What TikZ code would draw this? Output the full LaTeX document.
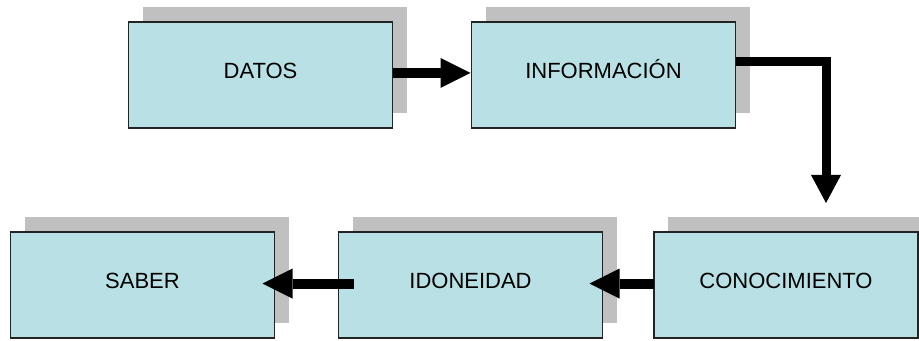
\documentclass[tikz,border=0pt]{standalone}
\usepackage{fontspec}
\setmainfont{Liberation Sans}
\usetikzlibrary{arrows.meta,shadows}
\definecolor{boxfill}{RGB}{185,224,228}
\definecolor{shadowgray}{RGB}{192,192,192}
\definecolor{boxline}{RGB}{35,35,35}
\begin{document}
\begin{tikzpicture}[x=0.75pt,y=-0.75pt,
  stagebox/.style={draw=boxline, line width=1.1pt, fill=boxfill,
    minimum width=198pt, minimum height=79.5pt, inner sep=0pt, outer sep=0pt,
    font=\fontsize{16.5}{18}\selectfont, text height=8pt, text depth=2.2pt,
    general shadow={fill=shadowgray, draw=none, shadow xshift=10.5pt, shadow yshift=11.25pt}},
  arr/.style={line width=7.5pt, -{Triangle[length=22.5pt,width=22.5pt,line width=0pt]}},
  elbow/.style={line width=6.75pt, -{Triangle[length=21pt,width=22.5pt,line width=0pt]}}]
\useasboundingbox (0,0) rectangle (919,341);
\node[stagebox] (datos) at (260.5,75) {DATOS};
\node[stagebox] (info) at (603.5,75) {INFORMACIÓN};
\node[stagebox] (saber) at (142.5,285) {SABER};
\node[stagebox] (idon) at (470.5,285) {IDONEIDAD};
\node[stagebox] (conoc) at (786,285) {CONOCIMIENTO};
\coordinate (down) at (826,203);
\draw[arr] ([yshift=1.5pt]datos.east) -- ([yshift=1.5pt,xshift=-0.75pt]info.west);
\draw[elbow] ([yshift=10pt]info.east) -| (down);
\draw[arr] ([yshift=1.1pt]conoc.west) -- ([yshift=1.1pt,xshift=-9.75pt]idon.east);
\draw[arr] ([yshift=1.1pt,xshift=11.25pt]idon.west) -- ([yshift=1.1pt,xshift=-9pt]saber.east);
\end{tikzpicture}
\end{document}
